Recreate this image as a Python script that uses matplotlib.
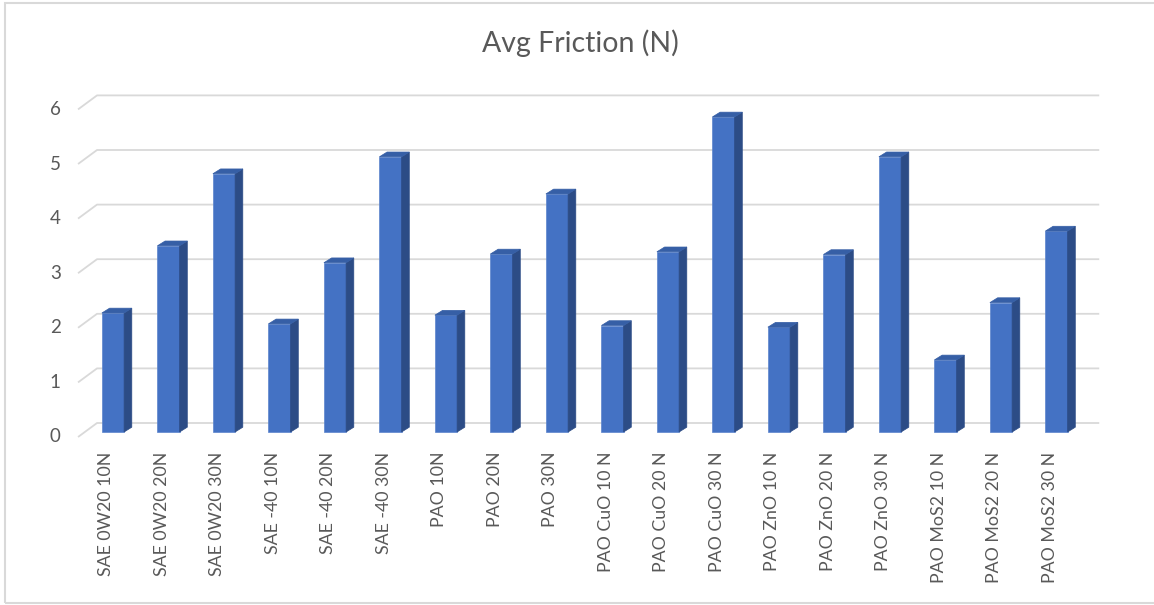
import numpy as np
import matplotlib.pyplot as plt
from matplotlib.patches import Polygon, Rectangle

plt.rcParams['font.family'] = ['Lato', 'DejaVu Sans']

categories = ['SAE 0W20 10N', 'SAE 0W20 20N', 'SAE 0W20 30N',
              'SAE -40 10N', 'SAE -40 20N', 'SAE -40 30N',
              'PAO 10N', 'PAO 20N', 'PAO 30N',
              'PAO CuO 10 N', 'PAO CuO 20 N', 'PAO CuO 30 N',
              'PAO ZnO 10 N', 'PAO ZnO 20 N', 'PAO ZnO 30 N',
              'PAO MoS2 10 N', 'PAO MoS2 20 N', 'PAO MoS2 30 N']
friction = [2.18, 3.41, 4.73, 1.98, 3.10, 5.04, 2.14, 3.26, 4.36,
            1.95, 3.30, 5.77, 1.92, 3.25, 5.04, 1.32, 2.37, 3.68]
yticks = [0, 1, 2, 3, 4, 5, 6]
title = 'Avg Friction (N)'

FRONT = '#4472C4'
SIDE = '#2C4C86'
TOP = '#365FA6'
GRID = '#D9D9D9'
TEXT = '#595959'

W, H = 1154, 605
fig = plt.figure(figsize=(W / 100, H / 100), dpi=100)

# pixel scale of the plot: one category step and one newton
x0_px, y0_px = 113, 432
step_x, step_y = 55.5, 54.6
xlim = (-1.0, 18.0)
ylim = (-0.2, 6.8)
ax = fig.add_axes([(x0_px + xlim[0] * step_x) / W,
                   (H - y0_px + ylim[0] * step_y) / H,
                   (xlim[1] - xlim[0]) * step_x / W,
                   (ylim[1] - ylim[0]) * step_y / H])
ax.set_xlim(*xlim)
ax.set_ylim(*ylim)
for s in ax.spines.values():
    s.set_visible(False)

# depth offsets (data units) for the fake 3d look
bar_dx, bar_dy = 7.7 / step_x, 4.8 / step_y
wall_front_x, wall_back_x = -0.63, -0.288
wall_front_dy, wall_back_dy = -5 / step_y, 9 / step_y
wall_right = 17.77

for v in yticks:
    ax.plot([wall_front_x, wall_back_x, wall_right],
            [v + wall_front_dy, v + wall_back_dy, v + wall_back_dy],
            color=GRID, lw=1.3, zorder=1, clip_on=False, solid_capstyle='butt')
    ax.text(-0.94, v + wall_front_dy, str(v), ha='right', va='center',
            fontsize=13.5, color=TEXT)

x = np.arange(len(categories))
bw = 0.4
ax.bar(x, friction, width=bw, color=FRONT, edgecolor='#5B84CC', lw=0.5, zorder=3)
for xi, v in zip(x, friction):
    r = xi + bw / 2
    l = xi - bw / 2
    side = Polygon([(r, 0), (r + bar_dx, bar_dy), (r + bar_dx, v + bar_dy), (r, v)],
                   closed=True, facecolor=SIDE, edgecolor=SIDE, lw=0.5, zorder=3)
    top = Polygon([(l, v), (l + bar_dx, v + bar_dy), (r + bar_dx, v + bar_dy), (r, v)],
                  closed=True, facecolor=TOP, edgecolor=TOP, lw=0.5, zorder=3)
    ax.add_patch(side)
    ax.add_patch(top)

ax.set_xticks(x - 0.12, categories, rotation=90, fontsize=12.8, color=TEXT)
ax.tick_params(axis='x', length=0, pad=6.5)
ax.set_yticks([])

fig.text(580 / W, 1 - 43 / H, title, ha='center', va='center',
         fontsize=20.5, color=TEXT)

# chart border (right edge falls outside the image)
fig.add_artist(Rectangle((5 / W, 2 / H), 1.2, 1 - 5 / H, transform=fig.transFigure,
                         fill=False, edgecolor=GRID, lw=1.5))

fig.savefig('out.png', dpi=100)
